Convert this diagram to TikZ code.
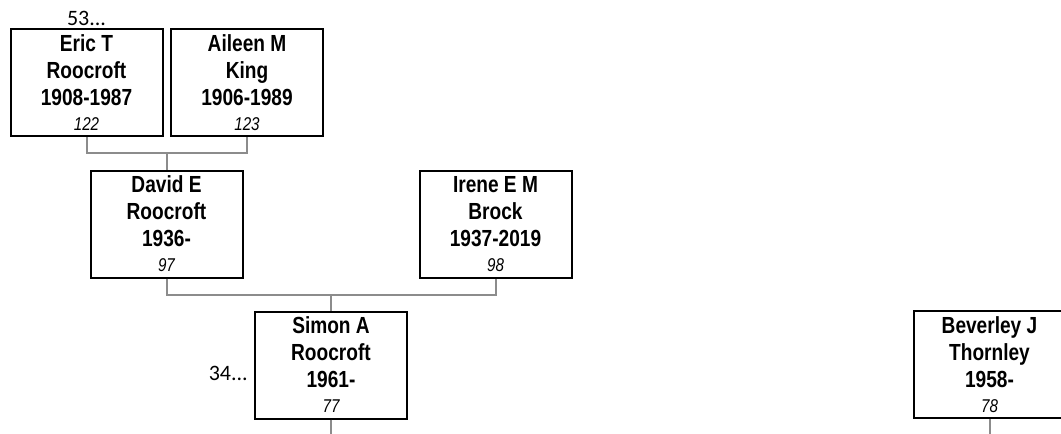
\documentclass[tikz,border=0pt]{standalone}
\usepackage{fontspec}
\setmainfont{Liberation Sans}
\newfontfamily\narrowfont{Liberation Sans}[FakeStretch=0.82]
\newfontfamily\carlito{Carlito}
\usetikzlibrary{calc}
\definecolor{conncol}{HTML}{8C8C8C}
\tikzset{
  personbox/.style={draw=black, line width=2pt, minimum width=152pt, minimum height=107pt, inner sep=0pt, fill=white},
  nameline/.style={anchor=base, inner sep=0pt, font=\narrowfont\fontsize{23.3pt}{26pt}\selectfont\bfseries},
  numline/.style={anchor=base, inner sep=0pt, font=\narrowfont\fontsize{18.5pt}{21pt}\selectfont\itshape},
  conn/.style={draw=conncol, line width=2pt},
  more/.style={inner sep=0pt, font=\carlito\fontsize{22pt}{24pt}\selectfont}
}
\newcommand{\personnode}[7]{%
  \node[personbox] (#1) at (#2,#3) {};
  \node[nameline] (#1-a) at ($(#1.north)+(0,23)$) {#4};
  \node[nameline] (#1-b) at ($(#1.north)+(0,50)$) {#5};
  \node[nameline] (#1-c) at ($(#1.north)+(0,77)$) {#6};
  \node[numline] (#1-d) at ($(#1.north)+(0,102)$) {#7};
}
\begin{document}
\begin{tikzpicture}[x=1pt,y=-1pt]
\useasboundingbox (0,0) rectangle (1061,434);
\clip (0,0) rectangle (1061,434);
\personnode{eric}{86.5}{82.5}{Eric T}{Roocroft}{1908-1987}{122}
\personnode{aileen}{247}{82.5}{Aileen M}{King}{1906-1989}{123}
\personnode{david}{166.5}{224}{David E}{Roocroft}{1936-}{97}
\personnode{irene}{495.5}{224}{Irene E M}{Brock}{1937-2019}{98}
\personnode{simon}{331}{365}{Simon A}{Roocroft}{1961-}{77}
\personnode{bev}{989.5}{364.5}{Beverley J}{Thornley}{1958-}{78}
\node[more, anchor=base] (more53) at (86.5,25) {53...};
\node[more, anchor=base east] (more34) at (248,380) {34...};
\coordinate (simonend) at (331,434);
\coordinate (bevend) at (989.5,434);
% connectors
\draw[conn] (eric.south) -- (eric.south |- 0,153) -| (aileen.south);
\draw[conn] (david.north) -- (david.north |- 0,153);
\draw[conn] (david.south) -- (david.south |- 0,295) -| (irene.south);
\draw[conn] (simon.north) -- (simon.north |- 0,295);
\draw[conn] (simon.south) -- (simonend);
\draw[conn] (bev.south) -- (bevend);
\end{tikzpicture}
\end{document}
